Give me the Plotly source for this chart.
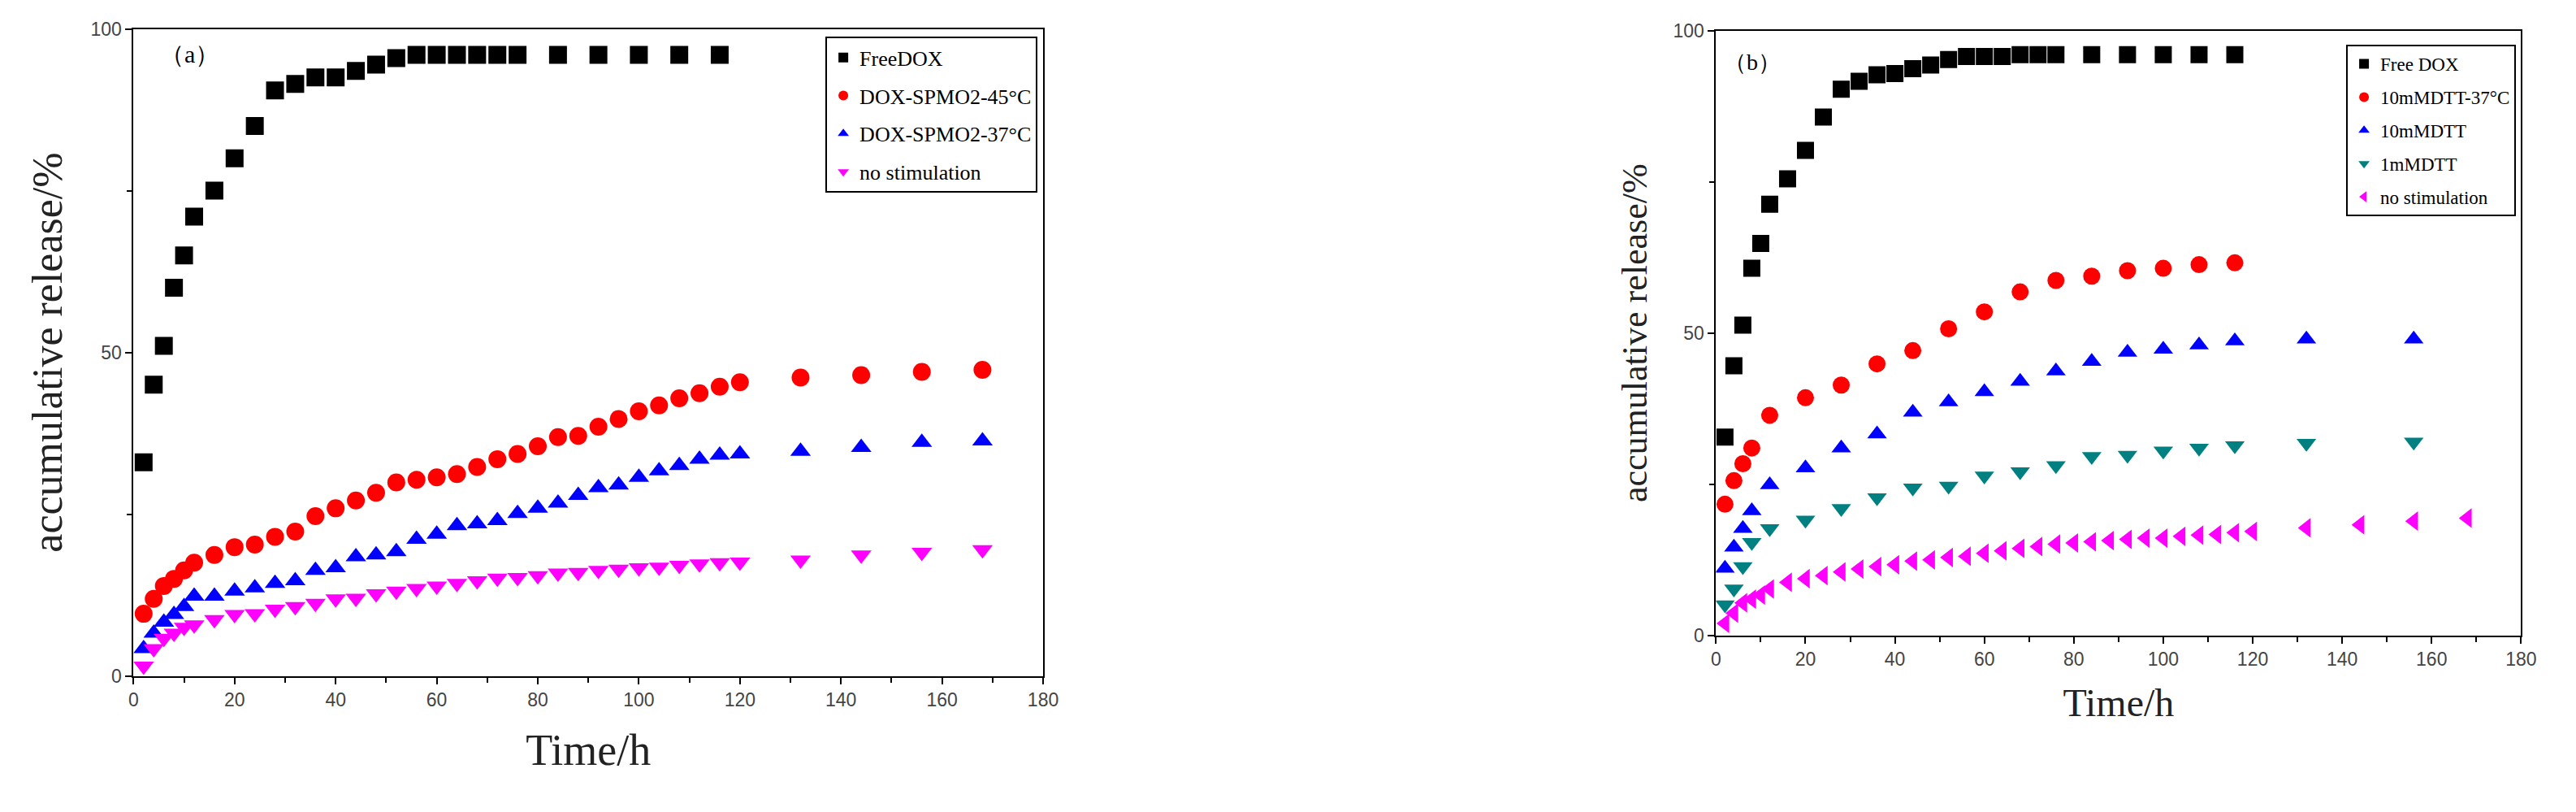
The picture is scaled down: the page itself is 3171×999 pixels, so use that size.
import plotly.graph_objects as go

# Panel (a)
xa_free = [2,4,6,8,10,12,16,20,24,28,32,36,40,44,48,52,56,60,64,68,72,76,84,92,100,108,116]
ya_free = [33,45,51,60,65,71,75,80,85,90.5,91.5,92.5,92.5,93.5,94.5,95.5,96,96,96,96,96,96,96,96,96,96,96]
xa_long = [2,4,6,8,10,12,16,20,24,28,32,36,40,44,48,52,56,60,64,68,72,76,80,84,88,92,96,100,104,108,112,116,120,132,144,156,168]
ya_45 = [9.6,11.9,13.9,15,16.3,17.5,18.7,19.9,20.3,21.5,22.3,24.7,25.9,27.1,28.3,29.9,30.3,30.7,31.2,32.3,33.5,34.3,35.5,36.9,37.1,38.5,39.7,40.9,41.8,42.9,43.7,44.7,45.4,46.1,46.5,47,47.3]
ya_37 = [4.2,6.6,8.3,9.5,10.7,12.3,12.3,13.1,13.6,14.3,14.7,16.3,16.7,18.4,18.7,19.2,21.1,21.9,23.2,23.5,24,25.1,25.9,26.7,27.9,29.1,29.5,30.7,31.7,32.5,33.5,34.1,34.3,34.7,35.3,36.1,36.3]
ya_none = [1.5,4.2,5.8,6.6,7.5,7.9,8.7,9.5,9.6,10.3,10.7,11.2,11.9,12,12.7,13.1,13.5,13.9,14.3,14.7,15.1,15.2,15.5,15.9,16,16.3,16.5,16.7,16.8,17.1,17.3,17.5,17.6,17.9,18.7,19.1,19.5]
names_a = ["FreeDOX", "DOX-SPMO2-45°C", "DOX-SPMO2-37°C", "no stimulation"]

# Panel (b)
xb_free = xa_free
yb_free = [32.8,44.6,51.3,60.7,64.8,71.3,75.5,80.2,85.7,90.3,91.6,92.7,92.9,93.7,94.3,95.2,95.7,95.7,95.7,96,96,96,96,96,96,96,96]
xb_red = [2,4,6,8,12,20,28,36,44,52,60,68,76,84,92,100,108,116]
yb_red = [21.7,25.6,28.4,31,36.4,39.3,41.4,44.9,47.1,50.7,53.5,56.8,58.7,59.4,60.3,60.7,61.3,61.6]
xb_mid = [2,4,6,8,12,20,28,36,44,52,60,68,76,84,92,100,108,116,132,156]
yb_10 = [11.1,14.6,17.7,20.6,24.9,27.7,31,33.3,36.9,38.6,40.3,42,43.7,45.3,46.8,47.3,48,48.7,49,49]
yb_1 = [5.1,7.7,11.4,15.4,17.7,19.1,21,22.8,24.4,24.7,26.4,27.1,28.1,29.6,29.8,30.5,31,31.4,31.8,32]
xb_none = xa_long
yb_none = [2,3.7,5.4,6,6.7,7.7,8.8,9.4,9.9,10.5,11,11.4,11.7,12.3,12.5,12.9,13.1,13.6,14,14.4,14.7,15.1,15.3,15.5,15.7,15.9,16.1,16.1,16.4,16.6,16.7,17,17.2,17.8,18.3,18.9,19.4]
names_b = ["Free DOX", "10mMDTT-37°C", "10mMDTT", "1mMDTT", "no stimulation"]

fig = go.Figure()
def add(x, y, name, sym, col, xa, ya, leg, size):
    fig.add_trace(go.Scatter(x=x, y=y, name=name, mode="markers", xaxis=xa, yaxis=ya, legend=leg,
                             legendgroup=leg + name,
                             marker=dict(symbol=sym, color=col, size=size, line=dict(width=0))))

add(xa_free, ya_free, names_a[0], "square", "black", "x", "y", "legend", 22)
add(xa_long, ya_45, names_a[1], "circle", "#ff0000", "x", "y", "legend", 22)
add(xa_long, ya_37, names_a[2], "triangle-up", "#0000ff", "x", "y", "legend", 22)
add(xa_long, ya_none, names_a[3], "triangle-down", "#ff00ff", "x", "y", "legend", 22)

add(xb_free, yb_free, names_b[0], "square", "black", "x2", "y2", "legend2", 21)
add(xb_red, yb_red, names_b[1], "circle", "#ff0000", "x2", "y2", "legend2", 21)
add(xb_mid, yb_10, names_b[2], "triangle-up", "#0000ff", "x2", "y2", "legend2", 21)
add(xb_mid, yb_1, names_b[3], "triangle-down", "#008080", "x2", "y2", "legend2", 21)
add(xb_none, yb_none, names_b[4], "triangle-left", "#ff00ff", "x2", "y2", "legend2", 21)

ax = dict(showline=True, linecolor="black", linewidth=2, mirror=True, showgrid=False, zeroline=False,
          ticks="outside", ticklen=8, tickwidth=2, tickcolor="black",
          tickfont=dict(family="Liberation Sans Narrow, Arial Narrow, Liberation Sans", size=23, color="#444"))
xax = dict(ax, range=[0, 180], dtick=20, minor=dict(dtick=10, ticks="outside", ticklen=6, tickwidth=2, tickcolor="black"))
yax = dict(ax, range=[0, 100], dtick=50, minor=dict(dtick=25, ticks="outside", ticklen=6, tickwidth=2, tickcolor="black"))
serif = "Liberation Serif, Times New Roman, serif"

fig.update_layout(
    width=3171, height=999, paper_bgcolor="white", plot_bgcolor="white",
    margin=dict(l=0, r=0, t=0, b=0),
    xaxis=dict(xax, domain=[0.0478, 0.4037], anchor="y",
               title=dict(text="Time/h", font=dict(family=serif, size=54, color="#222"), standoff=30)),
    yaxis=dict(yax, domain=[0.167, 0.985], anchor="x",
               title=dict(text="accumulative release/%", font=dict(family=serif, size=52, color="#222"), standoff=18)),
    xaxis2=dict(xax, domain=[0.667, 0.982], anchor="y2",
                title=dict(text="Time/h", font=dict(family=serif, size=48, color="#222"), standoff=24)),
    yaxis2=dict(yax, domain=[0.218, 0.983], anchor="x2",
                title=dict(text="accumulative release/%", font=dict(family=serif, size=44, color="#222"), standoff=18)),
    legend=dict(x=0.4015, y=0.975, xanchor="right", yanchor="top", bordercolor="black", borderwidth=2,
                bgcolor="white", font=dict(family=serif, size=26, color="black"), itemsizing="constant",
                tracegroupgap=10),
    legend2=dict(x=0.980, y=0.965, xanchor="right", yanchor="top", bordercolor="black", borderwidth=2,
                 bgcolor="white", font=dict(family=serif, size=23, color="black"), itemsizing="constant",
                 tracegroupgap=8),
    showlegend=True,
    annotations=[
        dict(text="（a）", x=0.0576, y=0.972, xref="paper", yref="paper", showarrow=False, xanchor="left",
             font=dict(family=serif, size=30, color="black")),
        dict(text="（b）", x=0.6695, y=0.961, xref="paper", yref="paper", showarrow=False, xanchor="left",
             font=dict(family=serif, size=28, color="black")),
    ],
)
fig.write_html("out.html")
